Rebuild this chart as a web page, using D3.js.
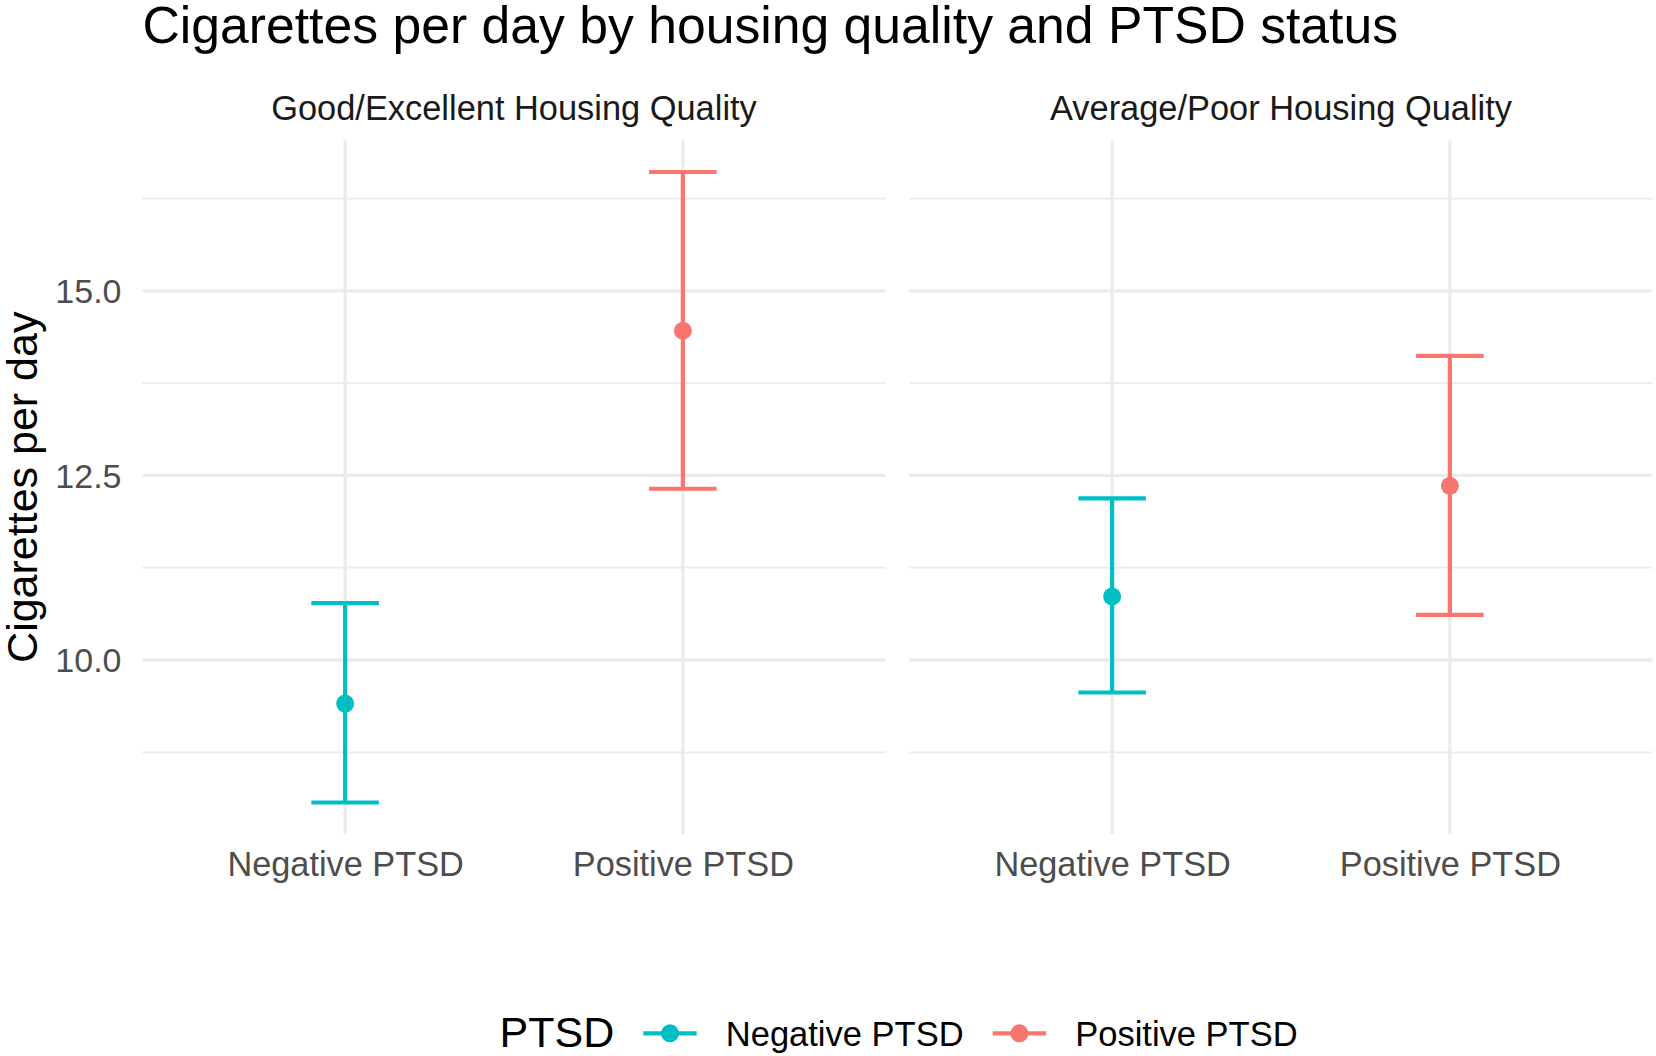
<!DOCTYPE html>
<html>
<head>
<meta charset="utf-8">
<script src="https://cdn.jsdelivr.net/npm/d3@7"></script>
<style>
  html, body { margin: 0; padding: 0; background: #ffffff; }
  svg { display: block; }
  text { font-family: "Liberation Sans", Arial, Helvetica, sans-serif; }
</style>
</head>
<body>
<svg id="chart" width="1656" height="1056"></svg>
<script>
// ---------------- DATA ----------------
const housingPanels = ["Good/Excellent Housing Quality", "Average/Poor Housing Quality"];
const ptsdGroups = ["Negative PTSD", "Positive PTSD"];
// values indexed by housing panel
const meanNegative  = [9.41, 10.86];
const lowerNegative = [8.07, 9.56];
const upperNegative = [10.77, 12.19];
const meanPositive  = [14.46, 12.36];
const lowerPositive = [12.32, 10.61];
const upperPositive = [16.61, 14.12];
const yMajorTicks = [10, 12.5, 15];
const yMinorTicks = [8.75, 11.25, 13.75, 16.25];
const yTickLabels = ["10.0", "12.5", "15.0"];
const titleText = "Cigarettes per day by housing quality and PTSD status";
const yAxisTitle = "Cigarettes per day";
const legendTitle = "PTSD";
const groupColors = ["#00BFC4", "#F8766D"];

// ---------------- BUILD ROWS ----------------
const rows = [];
housingPanels.forEach((h, i) => {
  rows.push({panel: h, group: ptsdGroups[0], mean: meanNegative[i], lower: lowerNegative[i], upper: upperNegative[i]});
  rows.push({panel: h, group: ptsdGroups[1], mean: meanPositive[i], lower: lowerPositive[i], upper: upperPositive[i]});
});

// ---------------- LAYOUT ----------------
const svg = d3.select("#chart");
const panelTop = 140.5, panelBottom = 834;
const panelWidth = 743, panelGap = 24, firstPanelLeft = 142.5;

const color = d3.scaleOrdinal().domain(ptsdGroups).range(groupColors);

const yMin = d3.min(rows, d => d.lower), yMax = d3.max(rows, d => d.upper);
const yPad = (yMax - yMin) * 0.05;
const y = d3.scaleLinear().domain([yMin - yPad, yMax + yPad]).range([panelBottom, panelTop]);

const panelLeft = (h) => firstPanelLeft + housingPanels.indexOf(h) * (panelWidth + panelGap);

const gridColor = "#EBEBEB";
const fontStack = "'Liberation Sans', Arial, Helvetica, sans-serif";

// Title
svg.append("text")
  .attr("x", firstPanelLeft).attr("y", 42.5)
  .attr("font-size", 51.7).attr("fill", "#000000")
  .text(titleText);

// Y axis title
svg.append("text")
  .attr("transform", `translate(37,${(panelTop + panelBottom) / 2}) rotate(-90)`)
  .attr("text-anchor", "middle")
  .attr("font-size", 43).attr("fill", "#000000")
  .text(yAxisTitle);

// Y tick labels (left panel only)
const yAxis = svg.append("g").attr("transform", `translate(${firstPanelLeft},0)`)
  .call(d3.axisLeft(y).tickValues(yMajorTicks).tickSize(0).tickPadding(21)
        .tickFormat((d, i) => yTickLabels[i]));
yAxis.select(".domain").remove();
yAxis.selectAll("text")
  .attr("font-size", 34).attr("fill", "#4D4D4D")
  .attr("font-family", fontStack)
  .attr("dy", "0.35em");

housingPanels.forEach((h) => {
  const left = panelLeft(h);
  const x = d3.scalePoint().domain(ptsdGroups).range([left, left + panelWidth]).padding(0.6);
  const capHalf = x.step() * 0.1;
  const g = svg.append("g");

  // minor horizontal grid
  g.selectAll("line.minor").data(yMinorTicks).join("line")
    .attr("x1", left).attr("x2", left + panelWidth)
    .attr("y1", d => y(d)).attr("y2", d => y(d))
    .attr("stroke", gridColor).attr("stroke-width", 1.7);
  // major horizontal grid
  g.selectAll("line.major").data(yMajorTicks).join("line")
    .attr("x1", left).attr("x2", left + panelWidth)
    .attr("y1", d => y(d)).attr("y2", d => y(d))
    .attr("stroke", gridColor).attr("stroke-width", 3.3);
  // vertical grid
  g.selectAll("line.vgrid").data(ptsdGroups).join("line")
    .attr("x1", d => x(d)).attr("x2", d => x(d))
    .attr("y1", panelTop).attr("y2", panelBottom)
    .attr("stroke", gridColor).attr("stroke-width", 3.3);

  // strip label
  svg.append("text")
    .attr("x", left + panelWidth / 2).attr("y", 119.5)
    .attr("text-anchor", "middle")
    .attr("font-size", 34.4).attr("fill", "#1A1A1A")
    .text(h);

  // x axis
  const xAxis = svg.append("g").attr("transform", `translate(0,${panelBottom})`)
    .call(d3.axisBottom(x).tickSize(0).tickPadding(0));
  xAxis.select(".domain").remove();
  xAxis.selectAll("text")
    .attr("font-size", 34.3).attr("fill", "#4D4D4D")
    .attr("font-family", fontStack)
    .attr("y", 42).attr("dy", 0);

  const data = rows.filter(r => r.panel === h);
  const eb = svg.append("g");
  eb.selectAll("line.bar").data(data).join("line")
    .attr("x1", d => x(d.group)).attr("x2", d => x(d.group))
    .attr("y1", d => y(d.lower)).attr("y2", d => y(d.upper))
    .attr("stroke", d => color(d.group)).attr("stroke-width", 4.2);
  eb.selectAll("line.capTop").data(data).join("line")
    .attr("x1", d => x(d.group) - capHalf).attr("x2", d => x(d.group) + capHalf)
    .attr("y1", d => y(d.upper)).attr("y2", d => y(d.upper))
    .attr("stroke", d => color(d.group)).attr("stroke-width", 4.2);
  eb.selectAll("line.capBottom").data(data).join("line")
    .attr("x1", d => x(d.group) - capHalf).attr("x2", d => x(d.group) + capHalf)
    .attr("y1", d => y(d.lower)).attr("y2", d => y(d.lower))
    .attr("stroke", d => color(d.group)).attr("stroke-width", 4.2);
  eb.selectAll("circle").data(data).join("circle")
    .attr("cx", d => x(d.group)).attr("cy", d => y(d.mean)).attr("r", 9)
    .attr("fill", d => color(d.group));
});

// Legend
const legendY = 1033.3;
const lg = svg.append("g");
lg.append("text").attr("x", 499.5).attr("y", 1047)
  .attr("font-size", 43).attr("fill", "#000000").text(legendTitle);
const keyStarts = [643.3, 992.7];
ptsdGroups.forEach((grp, i) => {
  const k = keyStarts[i];
  lg.append("line").attr("x1", k).attr("x2", k + 53.4)
    .attr("y1", legendY).attr("y2", legendY)
    .attr("stroke", color(grp)).attr("stroke-width", 4.2);
  lg.append("circle").attr("cx", k + 26.7).attr("cy", legendY).attr("r", 9)
    .attr("fill", color(grp));
  lg.append("text").attr("x", k + 82.5).attr("y", legendY + 12.3)
    .attr("font-size", 34.5).attr("fill", "#000000").text(grp);
});
</script>
</body>
</html>
